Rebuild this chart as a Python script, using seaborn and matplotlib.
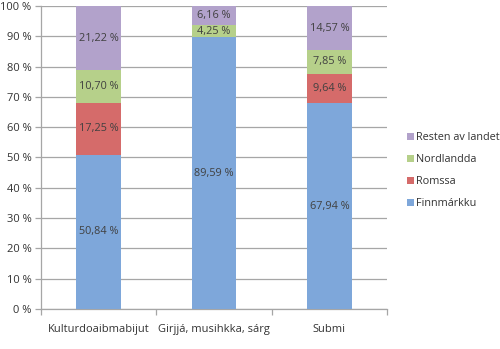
import matplotlib
matplotlib.use("Agg")
import matplotlib.pyplot as plt
import seaborn as sns
import pandas as pd
import numpy as np
from matplotlib.patches import Patch

categories = ["Kulturdoaibmabijut", "Girjjá, musihkka, sárg", "Submi"]
series = ["Finnmárkku", "Romssa", "Nordlandda", "Resten av landet"]
finnmarkku = [50.84, 89.59, 67.94]
romssa = [17.25, 0.0, 9.64]
nordlandda = [10.70, 4.25, 7.85]
resten = [21.22, 6.16, 14.57]
colors = ["#7EA7DA", "#D56B6A", "#B6D08A", "#B2A2CB"]

sns.set_theme(style="white")
plt.rcParams["font.family"] = ["Open Sans", "DejaVu Sans"]
text_color = "#333333"

fig = plt.figure(figsize=(5.0, 3.49), dpi=100)
ax = fig.add_axes([0.082, 0.1146, 0.692, 0.8684])

values = [finnmarkku, romssa, nordlandda, resten]
bottom = np.zeros(len(categories))
for name, vals, col in zip(series, values, colors):
    df = pd.DataFrame({"cat": categories, "val": vals})
    sns.barplot(data=df, x="cat", y="val", color=col, width=0.39,
                bottom=bottom, ax=ax, saturation=1, edgecolor="none",
                linewidth=0, zorder=3)
    for i, v in enumerate(vals):
        if v > 0:
            ax.text(i, bottom[i] + v / 2, f"{v:.2f} %".replace(".", ","),
                    ha="center", va="center", fontsize=7.8, color="#404040",
                    zorder=4)
    bottom = bottom + np.array(vals)

ax.set_ylim(0, 100)
ax.set_xlim(-0.5, 2.5)
ax.set_yticks(np.arange(0, 101, 10))
ax.set_yticklabels([f"{t} %" for t in range(0, 101, 10)])
ax.set_xlabel("")
ax.set_ylabel("")
ax.yaxis.grid(True, color="#A6A6A6", linewidth=0.9, zorder=0)
ax.xaxis.grid(False)
for s in ["top", "right"]:
    ax.spines[s].set_visible(False)
for s in ["left", "bottom"]:
    ax.spines[s].set_color("#A6A6A6")
    ax.spines[s].set_linewidth(0.9)

# category boundary ticks on the x axis
ax.set_xticks([-0.5, 0.5, 1.5, 2.5], minor=True)
ax.tick_params(axis="x", which="minor", length=4, color="#A6A6A6",
               width=0.9, direction="out", bottom=True)
ax.tick_params(axis="x", which="major", length=0, pad=11,
               labelsize=8, labelcolor=text_color)
ax.tick_params(axis="y", length=4, color="#A6A6A6", width=0.9,
               direction="out", left=True, labelsize=8,
               labelcolor=text_color, pad=3)

handles = [Patch(facecolor=c, edgecolor="none") for c in colors][::-1]
fig.legend(handles, series[::-1], loc="center left",
           bbox_to_anchor=(0.814, 0.511), frameon=False, fontsize=7.8,
           handlelength=0.6, handleheight=0.6, handletextpad=0.25,
           labelspacing=1.0, labelcolor=text_color,
           borderpad=0, borderaxespad=0)

fig.savefig("out.png", dpi=100)
